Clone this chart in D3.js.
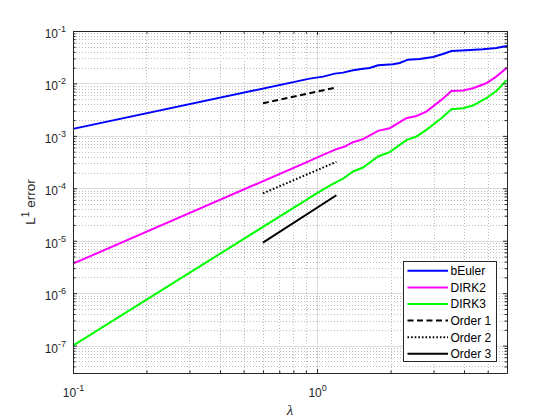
<!DOCTYPE html>
<html>
<head>
<meta charset="utf-8">
<script src="https://cdn.jsdelivr.net/npm/d3@7"></script>
<style>
  body { margin: 0; background: #fff; }
  svg { font-family: "Liberation Sans", Arial, sans-serif; }
</style>
</head>
<body>
<div id="wrapper"></div>
<script>
// values
const lambdaBE = [0.1, 0.933, 1.058, 1.182, 1.278, 1.404, 1.543, 1.643, 1.777, 2.047, 2.18, 2.358, 2.633, 2.985, 3.28, 3.549, 4.088, 4.78, 5.42, 6]
const errBE = [1.36e-3, 0.01235, 0.01349, 0.01538, 0.01607, 0.01782, 0.01914, 0.01974, 0.0222, 0.02323, 0.02457, 0.02844, 0.0293, 0.03198, 0.03646, 0.04159, 0.04285, 0.04477, 0.04745, 0.0518]

const lambdaD2 = [0.1, 0.933, 1.058, 1.2, 1.298, 1.404, 1.543, 1.777, 1.984, 2.322, 2.552, 2.804, 3.23, 3.549, 3.959, 4.351, 4.936, 5.42, 6]
const errD2 = [3.65e-6, 3.34e-4, 4.35e-4, 5.57e-4, 6.26e-4, 7.57e-4, 8.65e-4, 1.245e-3, 1.40e-3, 2.17e-3, 2.40e-3, 2.90e-3, 4.85e-3, 7.19e-3, 7.30e-3, 8.10e-3, 1.007e-2, 1.35e-2, 0.02]

const lambdaD3 = [0.1, 1.0, 1.146, 1.278, 1.404, 1.543, 1.777, 1.984, 2.322, 2.552, 2.804, 3.23, 3.549, 3.959, 4.351, 4.936, 5.42, 6]
const errD3 = [1e-7, 8.1e-5, 1.17e-4, 1.52e-4, 2.09e-4, 2.49e-4, 4.04e-4, 4.89e-4, 8.28e-4, 9.7e-4, 1.30e-3, 2.17e-3, 3.23e-3, 3.37e-3, 3.78e-3, 5.22e-3, 7.19e-3, 0.0117]

const lambdaOrder = [0.6, 1.2]
const errOrder1 = [4.2e-3, 8.4e-3]
const errOrder2 = [8e-5, 3.2e-4]
const errOrder3 = [9.2e-6, 7.36e-5]

const xMajor = [0.1, 1]
const xExp = ["-1", "0"]
const yMajor = [1e-7, 1e-6, 1e-5, 1e-4, 1e-3, 1e-2, 1e-1]
const yExp = ["-7", "-6", "-5", "-4", "-3", "-2", "-1"]

const series = [
  {name: "bEuler", x: lambdaBE, y: errBE, color: "#0000ff", dash: null},
  {name: "DIRK2", x: lambdaD2, y: errD2, color: "#ff00ff", dash: null},
  {name: "DIRK3", x: lambdaD3, y: errD3, color: "#00ff00", dash: null},
  {name: "Order 1", x: lambdaOrder, y: errOrder1, color: "#000000", dash: "6,3.5"},
  {name: "Order 2", x: lambdaOrder, y: errOrder2, color: "#000000", dash: "1.6,2"},
  {name: "Order 3", x: lambdaOrder, y: errOrder3, color: "#000000", dash: null}
]

const axisColor = "#262626"

let dimensions = {
  width: 560,
  height: 420,
  margin: {top: 31, right: 53, bottom: 47, left: 73}
}
dimensions.boundedWidth = dimensions.width - dimensions.margin.left - dimensions.margin.right
dimensions.boundedHeight = dimensions.height - dimensions.margin.top - dimensions.margin.bottom

const svg = d3.select("#wrapper")
  .append("svg")
    .attr("width", dimensions.width)
    .attr("height", dimensions.height)

const bounds = svg.append("g")
    .attr("transform", `translate(${dimensions.margin.left},${dimensions.margin.top})`)

const xScale = d3.scaleLog()
    .domain([0.1, 6])
    .range([0, dimensions.boundedWidth])

const yScale = d3.scaleLog()
    .domain([3e-8, 0.1])
    .range([dimensions.boundedHeight, 0])

const isMajor = (v, majors) => majors.some(m => Math.abs(v / m - 1) < 1e-6)
const xMinor = xScale.ticks().filter(v => !isMajor(v, xMajor))
const yMinor = yScale.ticks().filter(v => !isMajor(v, yMajor))

// minor grid (dotted)
const grid = bounds.append("g")
grid.selectAll(".xminor").data(xMinor).join("line")
    .attr("x1", d => Math.round(xScale(d)) + 0.5)
    .attr("x2", d => Math.round(xScale(d)) + 0.5)
    .attr("y1", 0).attr("y2", dimensions.boundedHeight)
    .attr("stroke", "#bdbdbd").attr("stroke-dasharray", "1,2")
grid.selectAll(".yminor").data(yMinor).join("line")
    .attr("y1", d => Math.round(yScale(d)) + 0.5)
    .attr("y2", d => Math.round(yScale(d)) + 0.5)
    .attr("x1", 0).attr("x2", dimensions.boundedWidth)
    .attr("stroke", "#bdbdbd").attr("stroke-dasharray", "1,2")
// major grid (solid, light)
grid.selectAll(".xmajor").data(xMajor).join("line")
    .attr("x1", d => Math.round(xScale(d)) + 0.5)
    .attr("x2", d => Math.round(xScale(d)) + 0.5)
    .attr("y1", 0).attr("y2", dimensions.boundedHeight)
    .attr("stroke", "#dcdcdc")
grid.selectAll(".ymajor").data(yMajor).join("line")
    .attr("y1", d => Math.round(yScale(d)) + 0.5)
    .attr("y2", d => Math.round(yScale(d)) + 0.5)
    .attr("x1", 0).attr("x2", dimensions.boundedWidth)
    .attr("stroke", "#dcdcdc")

// data lines
const lineGenerator = d3.line()
    .x(d => xScale(d[0]))
    .y(d => yScale(d[1]))

bounds.selectAll(".series").data(series).join("path")
    .attr("d", s => lineGenerator(d3.zip(s.x, s.y)))
    .attr("fill", "none")
    .attr("stroke", s => s.color)
    .attr("stroke-width", 2)
    .attr("stroke-dasharray", s => s.dash)

// axes: ticks pointing inward on all four sides
function styleAxis(g) {
  g.attr("font-family", null).attr("font-size", null)
  g.selectAll("path.domain").attr("stroke", axisColor)
  g.selectAll(".tick line").attr("stroke", axisColor)
}
function minorAxis(g) {
  styleAxis(g)
  g.select("path.domain").remove()
}

const xAxisBottom = bounds.append("g")
    .attr("transform", `translate(0,${dimensions.boundedHeight})`)
    .call(d3.axisBottom(xScale).tickValues(xMajor).tickSizeInner(-4).tickSizeOuter(0))
    .call(styleAxis)
bounds.append("g")
    .attr("transform", `translate(0,${dimensions.boundedHeight})`)
    .call(d3.axisBottom(xScale).tickValues(xMinor).tickSize(-2.5).tickFormat(""))
    .call(minorAxis)
bounds.append("g")
    .call(d3.axisTop(xScale).tickValues(xMajor).tickSizeInner(-4).tickSizeOuter(0).tickFormat(""))
    .call(styleAxis)
bounds.append("g")
    .call(d3.axisTop(xScale).tickValues(xMinor).tickSize(-2.5).tickFormat(""))
    .call(minorAxis)

const yAxisLeft = bounds.append("g")
    .call(d3.axisLeft(yScale).tickValues(yMajor).tickSizeInner(-4).tickSizeOuter(0))
    .call(styleAxis)
bounds.append("g")
    .call(d3.axisLeft(yScale).tickValues(yMinor).tickSize(-2.5).tickFormat(""))
    .call(minorAxis)
bounds.append("g")
    .attr("transform", `translate(${dimensions.boundedWidth},0)`)
    .call(d3.axisRight(yScale).tickValues(yMajor).tickSizeInner(-4).tickSizeOuter(0).tickFormat(""))
    .call(styleAxis)
bounds.append("g")
    .attr("transform", `translate(${dimensions.boundedWidth},0)`)
    .call(d3.axisRight(yScale).tickValues(yMinor).tickSize(-2.5).tickFormat(""))
    .call(minorAxis)

// tick labels as 10 with superscript exponent
function powerLabels(sel, exps) {
  sel.each(function(d, i) {
    const t = d3.select(this).text(null)
        .attr("fill", axisColor).attr("font-size", 12)
    t.append("tspan").text("10")
    t.append("tspan").attr("dy", -6).attr("font-size", 9).text(exps[i])
  })
}
xAxisBottom.selectAll(".tick text")
    .attr("y", 24).attr("dy", null)
    .call(powerLabels, xExp)
yAxisLeft.selectAll(".tick text")
    .attr("x", -7).attr("dy", null).attr("y", 6.5)
    .call(powerLabels, yExp)

// axis labels
svg.append("text")
    .attr("x", dimensions.margin.left + dimensions.boundedWidth / 2)
    .attr("y", 415)
    .attr("text-anchor", "middle")
    .attr("font-family", "'Liberation Serif', serif")
    .attr("font-style", "italic")
    .attr("font-size", 15)
    .attr("fill", axisColor)
    .text("λ")

const yLabel = svg.append("text")
    .attr("transform", `translate(35,${dimensions.margin.top + dimensions.boundedHeight / 2}) rotate(-90)`)
    .attr("text-anchor", "middle")
    .attr("font-size", 13.5)
    .attr("fill", axisColor)
yLabel.append("tspan").text("L")
yLabel.append("tspan").attr("dy", -6).attr("font-size", 10).text("1")
yLabel.append("tspan").attr("dy", 6).text(" error")

// legend
const legend = svg.append("g").attr("transform", "translate(403.5,261.5)")
legend.append("rect")
    .attr("width", 93).attr("height", 100)
    .attr("fill", "#fff")
    .attr("stroke", axisColor)
const items = legend.selectAll(".item").data(series).join("g")
    .attr("transform", (d, i) => `translate(0,${9.3 + i * 16.6})`)
items.append("line")
    .attr("x1", 4).attr("x2", 44.5)
    .attr("stroke", d => d.color)
    .attr("stroke-width", 2)
    .attr("stroke-dasharray", d => d.dash)
items.append("text")
    .attr("x", 47)
    .attr("y", 4.3)
    .attr("font-size", 12)
    .attr("fill", "#000")
    .text(d => d.name)
</script>
</body>
</html>
